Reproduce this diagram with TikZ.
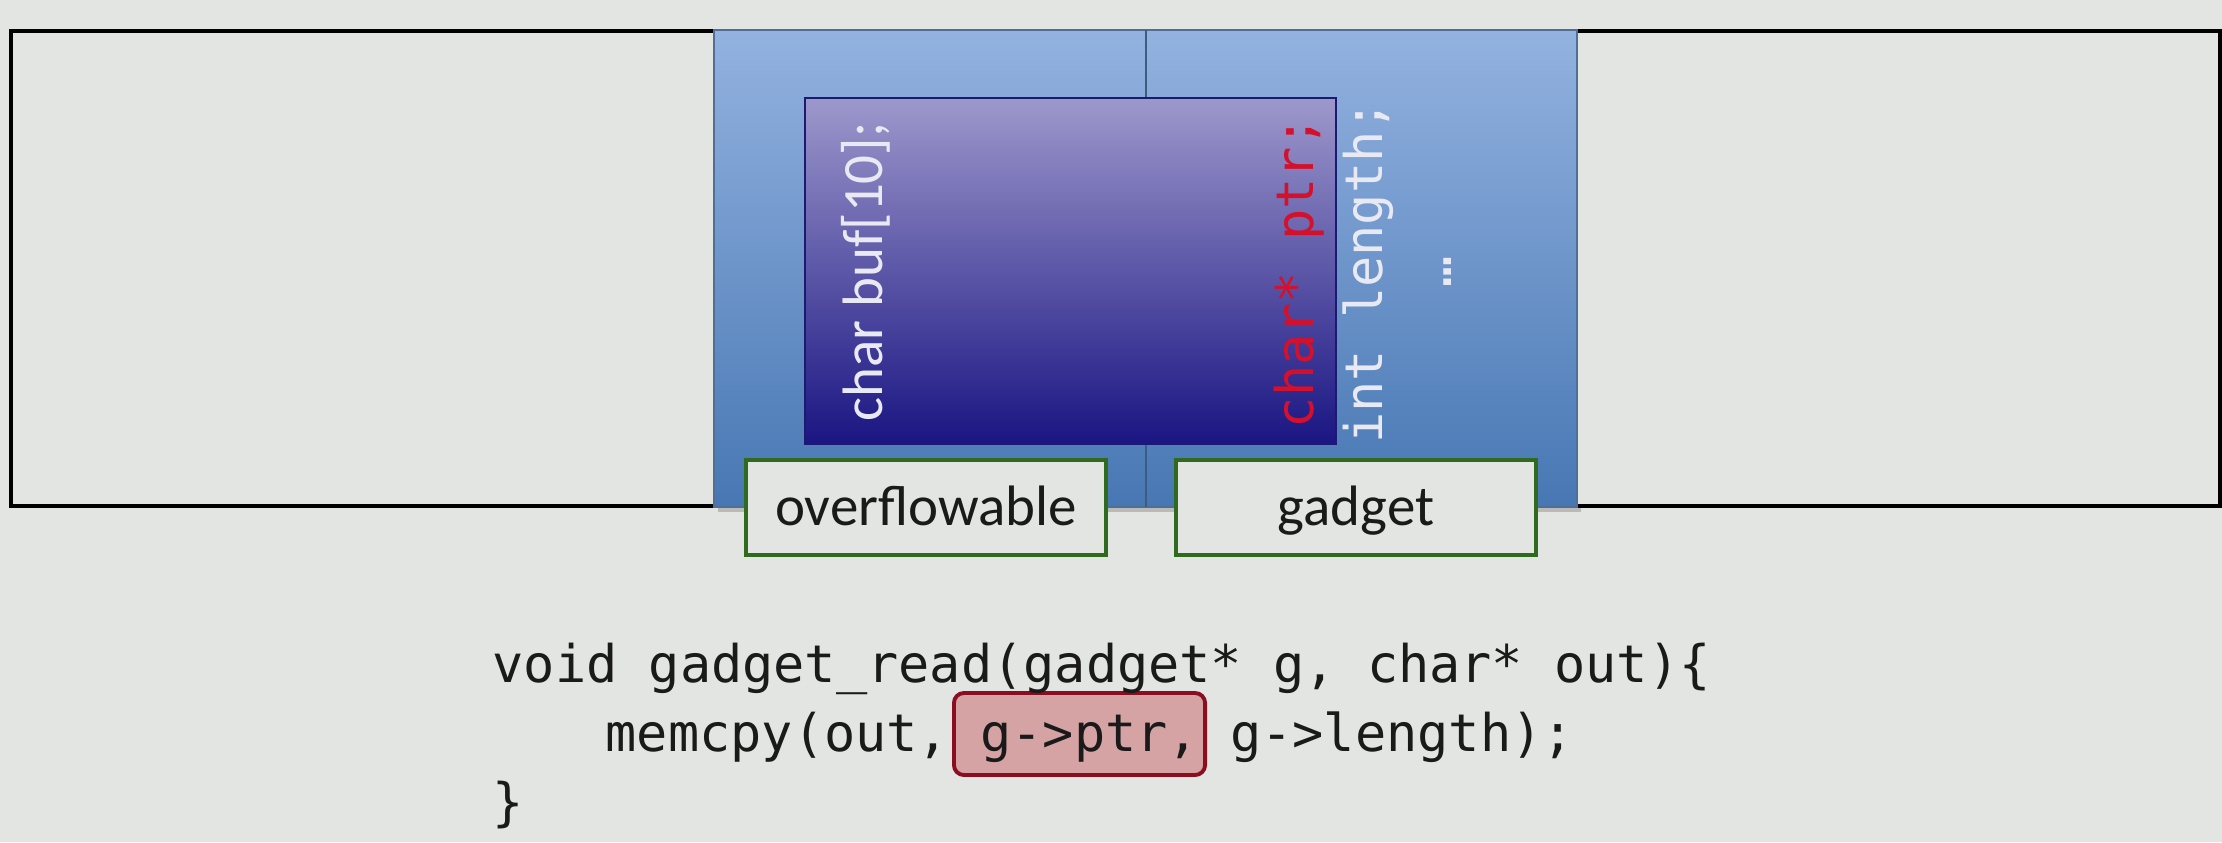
\documentclass[tikz,border=0pt]{standalone}
\usepackage{fontspec}
\setmainfont{Carlito}
\newfontfamily\codefont{DejaVu Sans Mono}
\definecolor{bg}{HTML}{E3E5E2}
\definecolor{bluetop}{HTML}{93B2E0}
\definecolor{bluebot}{HTML}{4777B3}
\definecolor{blueedge}{HTML}{4F6F96}
\definecolor{divider}{HTML}{3D5C82}
\definecolor{purtop}{HTML}{9D98CB}
\definecolor{purmid}{HTML}{706BAB}
\definecolor{purbot}{HTML}{1A1582}
\definecolor{puredge}{HTML}{1B1A70}
\definecolor{gborder}{HTML}{2F6A1F}
\definecolor{hlfill}{HTML}{D5A3A4}
\definecolor{hledge}{HTML}{8A0E1F}
\definecolor{ptrred}{HTML}{D4102B}
\definecolor{lighttext}{HTML}{E8E9F2}
\definecolor{codeink}{HTML}{1A1A1A}
\tikzset{
  gbox/.style={draw=gborder, fill=bg, line width=1.1pt, minimum width=3.6cm,
    minimum height=0.95cm, inner sep=0pt, text=codeink,
    font=\fontsize{16.2}{19}\selectfont, text height=0.36cm, text depth=0cm},
  code/.style={font=\codefont\fontsize{14.75}{17.7}\selectfont, inner sep=0pt, text=codeink},
  rotsans/.style={rotate=90, anchor=base, inner sep=0pt, text=lighttext,
    font=\fontsize{16.2}{19}\selectfont},
  rotcode/.style={rotate=90, anchor=base, inner sep=0pt,
    font=\codefont\fontsize{14.75}{17.7}\selectfont},
  hlbox/.style={draw=hledge, fill=hlfill, line width=1.1pt, rounded corners=0.1cm,
    minimum width=2.51cm, minimum height=0.82cm, inner sep=0pt}
}
\begin{document}
\begin{tikzpicture}[x=0.01cm,y=-0.01cm]
\fill[bg] (0,0) rectangle (2222,842);
\useasboundingbox (0,0) rectangle (2222,842);
% outer memory strip
\draw[line width=1.2pt] (11,31) rectangle (2220,506);
% struct blocks
\fill[black,opacity=0.18] (718,507) rectangle (1581,512);
\shade[top color=bluetop,bottom color=bluebot] (714,30) rectangle (1577,507);
\draw[blueedge, line width=0.6pt] (714,30) rectangle (1577,507);
\draw[divider, line width=0.8pt] (1146,30) -- (1146,507);
% overflowed buffer
\shade[top color=purtop,middle color=purmid,bottom color=purbot] (805,98) rectangle (1336,444);
\draw[puredge, line width=0.7pt] (805,98) rectangle (1336,444);
% rotated field labels
\node[rotsans] (buf) at (882,272) {char buf[10];};
\node[rotcode, text=ptrred] (ptr) at (1313,272) {char* ptr;};
\node[rotcode, text=lighttext] (len) at (1382,272) {int length;};
\node[rotcode, text=lighttext] (dots) at (1451,272) {…};
% labels
\node[gbox] (ovf) at (926,507.5) {overflowable};
\node[gbox] (gad) at (1356,507.5) {gadget};
% code
\node[hlbox] (hl) at (1079.5,734) {};
\node[code, anchor=base west] (l1) at (492,682) {void gadget\_read(gadget* g, char* out)\{};
\node[code, anchor=base west] (l2) at (605,751) {memcpy(out, g->ptr, g->length);};
\node[code, anchor=base west] (l3) at (492,820) {\}};
\end{tikzpicture}
\end{document}
